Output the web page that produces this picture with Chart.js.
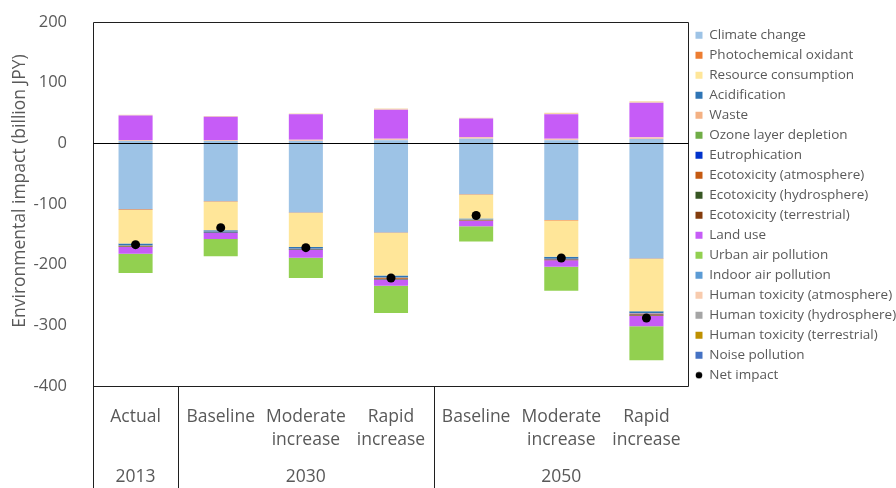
<!DOCTYPE html>
<html>
<head>
<meta charset="utf-8">
<script src="https://cdn.jsdelivr.net/npm/chart.js@4/dist/chart.umd.min.js"></script>
<style>
  html, body { margin: 0; padding: 0; background: #fff; }
  #wrap { width: 896px; height: 488px; }
</style>
</head>
<body>
<div id="wrap"><canvas id="chart" width="896" height="488"></canvas></div>
<script>
// Scenario columns and the year groups that sit under them
const scenarios = ['Actual', 'Baseline', ['Moderate', 'increase'], ['Rapid', 'increase'],
                   'Baseline', ['Moderate', 'increase'], ['Rapid', 'increase']];
const years = ['2013', '2030', '2050'];
const yearSpans = [1, 3, 3];

// Impact by category, billion JPY (order: Actual, B30, M30, R30, B50, M50, R50)
const climateChange      = [-108.5, -95.5, -114, -147, -84, -126.5, -190];
const climateChangeGain  = [4, 4, 4, 5, 7.5, 5, 7];
const photochemical      = [-1.5, -0.8, -0.8, -0.8, -0.8, -0.8, -0.8];
const resourceUse        = [-55, -47, -56, -70, -39, -59.5, -86];
const acidification      = [-2.5, -2, -2.5, -2.5, -1.5, -2.5, -3];
const waste              = [-0.5, -0.3, -0.3, -0.5, -0.3, -0.3, -0.5];
const wasteGain          = [1.5, 1.5, 2, 2.5, 3, 2.5, 3];
const ozoneDepletion     = [-0.3, -0.3, -0.3, -0.3, -0.3, -0.3, -0.3];
const eutrophication     = [-1, -0.5, -0.8, -1, -0.5, -1, -1.2];
const ecotoxAtmosphere   = [-0.5, -0.3, -0.5, -1.2, -0.3, -0.8, -1.5];
const ecotoxHydrosphere  = [-0.8, -0.5, -0.5, -1, -0.5, -0.8, -1];
const ecotoxTerrestrial  = [-0.3, -0.3, -0.3, -0.3, -0.3, -0.3, -0.3];
const landUse            = [-11, -10, -12.5, -10, -9, -10.5, -17];
const landUseGain        = [40.5, 38.5, 42, 48, 30.5, 40.5, 57];
const urbanAir           = [-32, -28.5, -33.5, -45, -25.5, -39.5, -56];
const indoorAir          = [0, 0, 0, 0, 0, 0, 0];
const humanToxAtmosphere = [0, 0, 0, 0, 0, 0, 0];
const humanToxAtmGain    = [1, 1, 1, 2, 1.3, 2.5, 2.5];
const humanToxHydro      = [0, 0, 0, 0, 0, 0, 0];
const humanToxTerrestrial= [0, 0, 0, 0, 0, 0, 0];
const noise              = [0, 0, 0, 0, 0, 0, 0];
const netImpact          = [-167, -139, -172, -222, -119, -189, -288];

const TEXT = '#595959';
const AXIS_FONT = 17.5;
Chart.defaults.font.family = '"Open Sans", sans-serif';
Chart.defaults.color = TEXT;

function bar(label, data, color, extra) {
  return Object.assign({
    type: 'bar', label, data, backgroundColor: color, borderWidth: 0,
    stack: 'impact', order: 1, pointStyle: 'rect',
    barPercentage: 0.4, categoryPercentage: 1.0
  }, extra || {});
}
const gain = { legendHidden: true };

const datasets = [
  bar('Climate change', climateChange, '#9dc3e6'),
  bar('Climate change', climateChangeGain, '#9dc3e6', gain),
  bar('Photochemical oxidant', photochemical, '#ed7d31'),
  bar('Resource consumption', resourceUse, '#ffe699'),
  bar('Acidification', acidification, '#2e75b6'),
  bar('Waste', waste, '#f4b183'),
  bar('Waste', wasteGain, '#f4c7b8', gain),
  bar('Ozone layer depletion', ozoneDepletion, '#70ad47'),
  bar('Eutrophication', eutrophication, '#0033cc'),
  bar('Ecotoxicity (atmosphere)', ecotoxAtmosphere, '#c55a11'),
  bar('Ecotoxicity (hydrosphere)', ecotoxHydrosphere, '#375623'),
  bar('Ecotoxicity (terrestrial)', ecotoxTerrestrial, '#843c0c'),
  bar('Land use', landUse, '#c65cf7'),
  bar('Land use', landUseGain, '#c65cf7', gain),
  bar('Urban air pollution', urbanAir, '#92d050'),
  bar('Indoor air pollution', indoorAir, '#5b9bd5'),
  bar('Human toxicity (atmosphere)', humanToxAtmosphere, '#f8cbad'),
  bar('Human toxicity (atmosphere)', humanToxAtmGain, '#f6d7a8', gain),
  bar('Human toxicity (hydrosphere)', humanToxHydro, '#a5a5a5'),
  bar('Human toxicity (terrestrial)', humanToxTerrestrial, '#bf9000'),
  bar('Noise pollution', noise, '#4472c4'),
  {
    type: 'line', label: 'Net impact', data: netImpact, stack: 'net', order: 0,
    showLine: false, pointStyle: 'circle', pointRadius: 4.5,
    backgroundColor: '#000', borderColor: '#000',
    pointBackgroundColor: '#000', pointBorderColor: '#000', pointBorderWidth: 0
  }
];

// Small round marker used for the net-impact legend entry
const legendDot = document.createElement('canvas');
legendDot.width = 8; legendDot.height = 8;
{
  const c = legendDot.getContext('2d');
  c.fillStyle = '#000';
  c.beginPath(); c.arc(4, 4, 3.3, 0, Math.PI * 2); c.fill();
}

// Box around the plot, zero line, group dividers, year labels, axis title
const frame = {
  id: 'frame',
  beforeUpdate(chart) {
    const lg = chart.legend;
    if (lg && !lg._fixedWidth) {
      const fit = lg.fit.bind(lg);
      lg.fit = function () { fit(); this.width = 207; };
      lg._fixedWidth = true;
    }
  },
  afterDraw(chart) {
    const { ctx, chartArea: a, scales: { x, y } } = chart;
    const H = chart.height;
    const L = Math.round(a.left) + 0.5, R = Math.round(a.right) - 0.5;
    const T = Math.round(a.top) + 0.5, B = Math.round(a.bottom) + 0.5;
    ctx.save();
    ctx.strokeStyle = '#1f1f1f';
    ctx.lineWidth = 1;
    ctx.beginPath();
    ctx.moveTo(L, T); ctx.lineTo(R, T); ctx.lineTo(R, B); ctx.lineTo(L, B);
    ctx.moveTo(L, T); ctx.lineTo(L, H);
    const half = (x.getPixelForValue(1) - x.getPixelForValue(0)) / 2;
    let idx = 0;
    const groups = [];
    years.forEach((yr, g) => {
      const left = x.getPixelForValue(idx) - half;
      const right = x.getPixelForValue(idx + yearSpans[g] - 1) + half;
      groups.push([yr, left, right]);
      idx += yearSpans[g];
      if (g < years.length - 1) {
        const xx = Math.round(right) + 0.5;
        ctx.moveTo(xx, B); ctx.lineTo(xx, H);
      }
    });
    ctx.stroke();
    // zero line
    const z = Math.round(y.getPixelForValue(0)) + 0.5;
    ctx.strokeStyle = '#000';
    ctx.beginPath(); ctx.moveTo(L, z); ctx.lineTo(R, z); ctx.stroke();
    // year labels
    ctx.fillStyle = TEXT;
    ctx.font = AXIS_FONT + 'px "Open Sans", sans-serif';
    ctx.textAlign = 'center';
    ctx.textBaseline = 'middle';
    groups.forEach(([yr, l, r]) => ctx.fillText(yr, (l + r) / 2, a.bottom + 91));
    // y axis title
    ctx.translate(20, 191);
    ctx.rotate(-Math.PI / 2);
    ctx.fillText('Environmental impact (billion JPY)', 0, 0);
    ctx.restore();
  }
};

new Chart(document.getElementById('chart'), {
  data: { labels: scenarios, datasets },
  plugins: [frame],
  options: {
    responsive: false,
    animation: false,
    layout: { padding: { top: 22, left: 0, right: 0, bottom: 0 } },
    plugins: {
      tooltip: { enabled: false },
      legend: {
        position: 'right',
        align: 'start',
        labels: {
          usePointStyle: true,
          boxWidth: 7, boxHeight: 7,
          padding: 6.5,
          color: TEXT,
          font: { size: 13.5 },
          filter: (item, data) => !data.datasets[item.datasetIndex].legendHidden,
          sort: (a, b) => a.datasetIndex - b.datasetIndex,
          generateLabels(chart) {
            const items = Chart.defaults.plugins.legend.labels.generateLabels(chart);
            items.forEach(it => {
              if (chart.data.datasets[it.datasetIndex].type === 'line') it.pointStyle = legendDot;
            });
            return items;
          }
        }
      }
    },
    scales: {
      x: {
        stacked: true,
        grid: { display: false, drawTicks: false },
        border: { display: false },
        ticks: { padding: 19.5, autoSkip: false, maxRotation: 0, font: { size: AXIS_FONT, lineHeight: 1.3 }, color: TEXT },
        afterFit(s) { s.height = 102; }
      },
      y: {
        stacked: true,
        min: -400, max: 200,
        grid: { display: false, drawTicks: false },
        border: { display: false },
        ticks: { stepSize: 100, padding: 26, font: { size: 16.5 }, color: TEXT },
        afterFit(s) { s.width = 93; s.paddingTop = 0; s.paddingBottom = 0; }
      }
    }
  }
});
</script>
</body>
</html>
